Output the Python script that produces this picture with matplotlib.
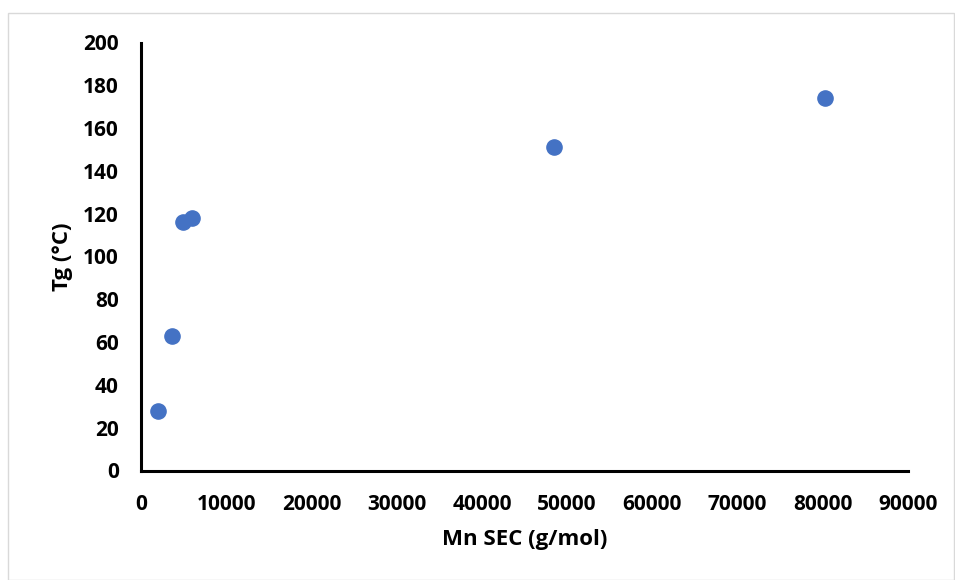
import matplotlib.pyplot as plt
from matplotlib.patches import Rectangle

mn_sec = [2000, 3600, 4950, 6000, 48450, 80250]
tg = [28, 63, 116, 118, 151, 174]

x_ticks = [0, 10000, 20000, 30000, 40000, 50000, 60000, 70000, 80000, 90000]
y_ticks = [0, 20, 40, 60, 80, 100, 120, 140, 160, 180, 200]

plt.rcParams['font.family'] = ['Open Sans', 'DejaVu Sans']
plt.rcParams['font.weight'] = 'bold'

fig = plt.figure(figsize=(9.55, 5.8), dpi=100)
fig.patches.append(Rectangle((8 / 955, 0), 946 / 955, 567 / 580, transform=fig.transFigure,
                             fill=False, edgecolor='#d9d9d9', linewidth=1))

ax = fig.add_axes([141 / 955, 109.5 / 580, 767 / 955, 428 / 580])
ax.scatter(mn_sec, tg, s=120, color='#4472C4', zorder=3, clip_on=False)

ax.set_xlim(0, 90000)
ax.set_ylim(0, 200)
ax.set_xticks(x_ticks)
ax.set_yticks(y_ticks)
ax.set_xticklabels([str(v) for v in x_ticks], fontsize=15, fontweight='bold')
ax.set_yticklabels([str(v) for v in y_ticks], fontsize=15, fontweight='bold')
ax.tick_params(axis='x', length=0, pad=17)
ax.tick_params(axis='y', length=0, pad=16)

for side in ['top', 'right']:
    ax.spines[side].set_visible(False)
for side in ['left', 'bottom']:
    ax.spines[side].set_linewidth(2.2)
    ax.spines[side].set_color('black')

ax.set_xlabel('Mn SEC (g/mol)', fontsize=16, fontweight='bold', labelpad=10)
ax.set_ylabel('Tg (°C)', fontsize=16, fontweight='bold', labelpad=7)

fig.savefig('out.png', dpi=100)
